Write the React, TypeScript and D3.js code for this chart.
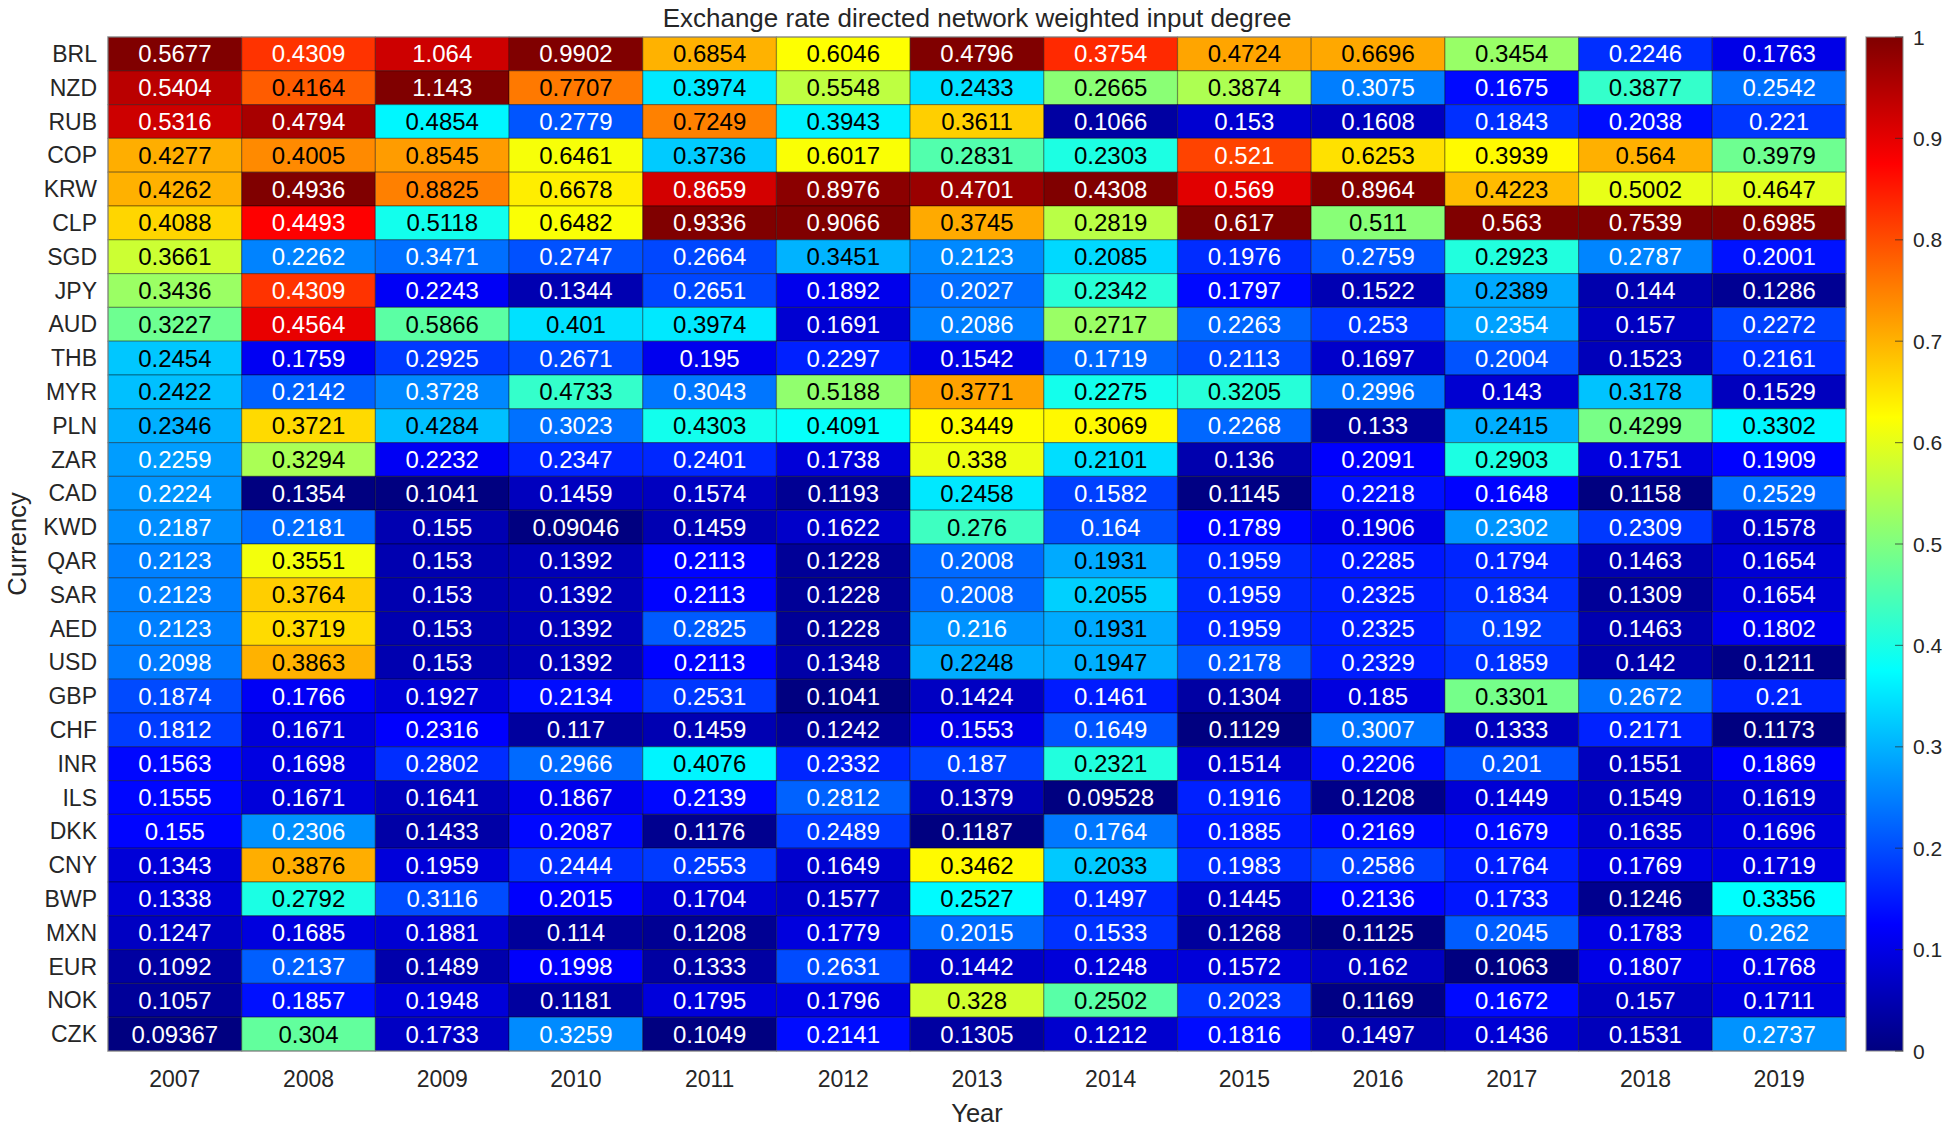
import * as d3 from 'd3';
import React, { useEffect, useRef } from 'react';

const years = ['2007', '2008', '2009', '2010', '2011', '2012', '2013', '2014', '2015', '2016', '2017', '2018', '2019'];

const currencies = ['BRL', 'NZD', 'RUB', 'COP', 'KRW', 'CLP', 'SGD', 'JPY', 'AUD', 'THB', 'MYR', 'PLN', 'ZAR', 'CAD', 'KWD',
    'QAR', 'SAR', 'AED', 'USD', 'GBP', 'CHF', 'INR', 'ILS', 'DKK', 'CNY', 'BWP', 'MXN', 'EUR', 'NOK', 'CZK'];

// one row per currency, one value per year
const degree = [
    [0.5677, 0.4309, 1.064, 0.9902, 0.6854, 0.6046, 0.4796, 0.3754, 0.4724, 0.6696, 0.3454, 0.2246, 0.1763],
    [0.5404, 0.4164, 1.143, 0.7707, 0.3974, 0.5548, 0.2433, 0.2665, 0.3874, 0.3075, 0.1675, 0.3877, 0.2542],
    [0.5316, 0.4794, 0.4854, 0.2779, 0.7249, 0.3943, 0.3611, 0.1066, 0.153, 0.1608, 0.1843, 0.2038, 0.221],
    [0.4277, 0.4005, 0.8545, 0.6461, 0.3736, 0.6017, 0.2831, 0.2303, 0.521, 0.6253, 0.3939, 0.564, 0.3979],
    [0.4262, 0.4936, 0.8825, 0.6678, 0.8659, 0.8976, 0.4701, 0.4308, 0.569, 0.8964, 0.4223, 0.5002, 0.4647],
    [0.4088, 0.4493, 0.5118, 0.6482, 0.9336, 0.9066, 0.3745, 0.2819, 0.617, 0.511, 0.563, 0.7539, 0.6985],
    [0.3661, 0.2262, 0.3471, 0.2747, 0.2664, 0.3451, 0.2123, 0.2085, 0.1976, 0.2759, 0.2923, 0.2787, 0.2001],
    [0.3436, 0.4309, 0.2243, 0.1344, 0.2651, 0.1892, 0.2027, 0.2342, 0.1797, 0.1522, 0.2389, 0.144, 0.1286],
    [0.3227, 0.4564, 0.5866, 0.401, 0.3974, 0.1691, 0.2086, 0.2717, 0.2263, 0.253, 0.2354, 0.157, 0.2272],
    [0.2454, 0.1759, 0.2925, 0.2671, 0.195, 0.2297, 0.1542, 0.1719, 0.2113, 0.1697, 0.2004, 0.1523, 0.2161],
    [0.2422, 0.2142, 0.3728, 0.4733, 0.3043, 0.5188, 0.3771, 0.2275, 0.3205, 0.2996, 0.143, 0.3178, 0.1529],
    [0.2346, 0.3721, 0.4284, 0.3023, 0.4303, 0.4091, 0.3449, 0.3069, 0.2268, 0.133, 0.2415, 0.4299, 0.3302],
    [0.2259, 0.3294, 0.2232, 0.2347, 0.2401, 0.1738, 0.338, 0.2101, 0.136, 0.2091, 0.2903, 0.1751, 0.1909],
    [0.2224, 0.1354, 0.1041, 0.1459, 0.1574, 0.1193, 0.2458, 0.1582, 0.1145, 0.2218, 0.1648, 0.1158, 0.2529],
    [0.2187, 0.2181, 0.155, 0.09046, 0.1459, 0.1622, 0.276, 0.164, 0.1789, 0.1906, 0.2302, 0.2309, 0.1578],
    [0.2123, 0.3551, 0.153, 0.1392, 0.2113, 0.1228, 0.2008, 0.1931, 0.1959, 0.2285, 0.1794, 0.1463, 0.1654],
    [0.2123, 0.3764, 0.153, 0.1392, 0.2113, 0.1228, 0.2008, 0.2055, 0.1959, 0.2325, 0.1834, 0.1309, 0.1654],
    [0.2123, 0.3719, 0.153, 0.1392, 0.2825, 0.1228, 0.216, 0.1931, 0.1959, 0.2325, 0.192, 0.1463, 0.1802],
    [0.2098, 0.3863, 0.153, 0.1392, 0.2113, 0.1348, 0.2248, 0.1947, 0.2178, 0.2329, 0.1859, 0.142, 0.1211],
    [0.1874, 0.1766, 0.1927, 0.2134, 0.2531, 0.1041, 0.1424, 0.1461, 0.1304, 0.185, 0.3301, 0.2672, 0.21],
    [0.1812, 0.1671, 0.2316, 0.117, 0.1459, 0.1242, 0.1553, 0.1649, 0.1129, 0.3007, 0.1333, 0.2171, 0.1173],
    [0.1563, 0.1698, 0.2802, 0.2966, 0.4076, 0.2332, 0.187, 0.2321, 0.1514, 0.2206, 0.201, 0.1551, 0.1869],
    [0.1555, 0.1671, 0.1641, 0.1867, 0.2139, 0.2812, 0.1379, 0.09528, 0.1916, 0.1208, 0.1449, 0.1549, 0.1619],
    [0.155, 0.2306, 0.1433, 0.2087, 0.1176, 0.2489, 0.1187, 0.1764, 0.1885, 0.2169, 0.1679, 0.1635, 0.1696],
    [0.1343, 0.3876, 0.1959, 0.2444, 0.2553, 0.1649, 0.3462, 0.2033, 0.1983, 0.2586, 0.1764, 0.1769, 0.1719],
    [0.1338, 0.2792, 0.3116, 0.2015, 0.1704, 0.1577, 0.2527, 0.1497, 0.1445, 0.2136, 0.1733, 0.1246, 0.3356],
    [0.1247, 0.1685, 0.1881, 0.114, 0.1208, 0.1779, 0.2015, 0.1533, 0.1268, 0.1125, 0.2045, 0.1783, 0.262],
    [0.1092, 0.2137, 0.1489, 0.1998, 0.1333, 0.2631, 0.1442, 0.1248, 0.1572, 0.162, 0.1063, 0.1807, 0.1768],
    [0.1057, 0.1857, 0.1948, 0.1181, 0.1795, 0.1796, 0.328, 0.2502, 0.2023, 0.1169, 0.1672, 0.157, 0.1711],
    [0.09367, 0.304, 0.1733, 0.3259, 0.1049, 0.2141, 0.1305, 0.1212, 0.1816, 0.1497, 0.1436, 0.1531, 0.2737],
];

const colorbarTicks = [0, 0.1, 0.2, 0.3, 0.4, 0.5, 0.6, 0.7, 0.8, 0.9, 1];

const FONT = '"Liberation Sans", Arial, Helvetica, sans-serif';
const TEXT = '#262626';

// matlab style jet colormap
function jetRgb(t: number) {
    const c = (v: number) => Math.max(0, Math.min(1, v));
    return [c(1.5 - Math.abs(4 * t - 3)), c(1.5 - Math.abs(4 * t - 2)), c(1.5 - Math.abs(4 * t - 1))];
}
function jet(t: number) {
    const [r, g, b] = jetRgb(t);
    return d3.rgb(r * 255, g * 255, b * 255).formatHex();
}
function labelColor(t: number) {
    const [r, g, b] = jetRgb(t);
    return 0.299 * r + 0.587 * g + 0.114 * b > 0.5 ? '#000000' : '#ffffff';
}

function App() {
    const ref = useRef<SVGSVGElement>(null);

    useEffect(() => {
        const svg = d3.select(ref.current);
        svg.selectAll('*').remove();

        const left = 108, right = 1846, top = 37, bottom = 1051;
        const x = d3.scaleBand().domain(years).range([left, right]);
        const y = d3.scaleBand().domain(currencies).range([top, bottom]);

        // colours are normalised per year (column)
        const norms = years.map((_, j) => {
            const col = degree.map(row => row[j]);
            return d3.scaleLinear().domain(d3.extent(col) as [number, number]).range([0, 1]);
        });

        const cells = [];
        currencies.forEach((cur, i) => {
            years.forEach((yr, j) => {
                const v = degree[i][j];
                cells.push({ cur, yr, v, t: norms[j](v) });
            });
        });

        const g = svg.append('g');
        g.selectAll('rect.cell')
            .data(cells)
            .enter()
            .append('rect')
            .attr('class', 'cell')
            .attr('x', d => x(d.yr))
            .attr('y', d => y(d.cur))
            .attr('width', x.bandwidth())
            .attr('height', y.bandwidth())
            .attr('fill', d => jet(d.t))
            .attr('stroke', 'rgba(0,0,0,0.32)')
            .attr('stroke-width', 1.2);

        g.selectAll('text.val')
            .data(cells)
            .enter()
            .append('text')
            .attr('class', 'val')
            .attr('x', d => x(d.yr) + x.bandwidth() / 2)
            .attr('y', d => y(d.cur) + y.bandwidth() / 2)
            .attr('text-anchor', 'middle')
            .attr('dominant-baseline', 'central')
            .style('font-family', FONT)
            .style('font-size', '24px')
            .attr('fill', d => labelColor(d.t))
            .text(d => String(d.v));

        // axes frame
        svg.append('rect')
            .attr('x', left).attr('y', top)
            .attr('width', right - left).attr('height', bottom - top)
            .attr('fill', 'none')
            .attr('stroke', 'rgba(140,140,140,0.7)')
            .attr('stroke-width', 1.5);

        // tick labels
        svg.append('g').selectAll('text')
            .data(currencies)
            .enter()
            .append('text')
            .attr('x', left - 11)
            .attr('y', d => y(d) + y.bandwidth() / 2)
            .attr('text-anchor', 'end')
            .attr('dominant-baseline', 'central')
            .style('font-family', FONT)
            .style('font-size', '23px')
            .attr('fill', TEXT)
            .text(d => d);

        svg.append('g').selectAll('text')
            .data(years)
            .enter()
            .append('text')
            .attr('x', d => x(d) + x.bandwidth() / 2)
            .attr('y', 1087)
            .attr('text-anchor', 'middle')
            .style('font-family', FONT)
            .style('font-size', '23px')
            .attr('fill', TEXT)
            .text(d => d);

        // axis titles
        svg.append('text')
            .attr('x', (left + right) / 2)
            .attr('y', 1122)
            .attr('text-anchor', 'middle')
            .style('font-family', FONT)
            .style('font-size', '25.5px')
            .attr('fill', TEXT)
            .text('Year');

        svg.append('text')
            .attr('transform', `translate(26,${(top + bottom) / 2}) rotate(-90)`)
            .attr('text-anchor', 'middle')
            .style('font-family', FONT)
            .style('font-size', '25.5px')
            .attr('fill', TEXT)
            .text('Currency');

        svg.append('text')
            .attr('x', (left + right) / 2)
            .attr('y', 27)
            .attr('text-anchor', 'middle')
            .style('font-family', FONT)
            .style('font-size', '26px')
            .attr('fill', TEXT)
            .text('Exchange rate directed network weighted input degree');

        // colorbar
        const cbX = 1866, cbW = 37;
        const cy = d3.scaleLinear().domain([0, 1]).range([bottom, top]);
        const grad = svg.append('defs').append('linearGradient')
            .attr('id', 'jetgrad')
            .attr('x1', 0).attr('y1', 1).attr('x2', 0).attr('y2', 0);
        grad.selectAll('stop')
            .data(d3.range(0, 65).map(k => k / 64))
            .enter()
            .append('stop')
            .attr('offset', d => d)
            .attr('stop-color', d => jet(d));

        svg.append('rect')
            .attr('x', cbX).attr('y', top)
            .attr('width', cbW).attr('height', bottom - top)
            .attr('fill', 'url(#jetgrad)')
            .attr('stroke', 'rgba(140,140,140,0.7)')
            .attr('stroke-width', 1.5);

        const cb = svg.append('g');
        cb.selectAll('line')
            .data(colorbarTicks)
            .enter()
            .append('line')
            .attr('x1', cbX + cbW - 8).attr('x2', cbX + cbW)
            .attr('y1', d => cy(d)).attr('y2', d => cy(d))
            .attr('stroke', 'rgba(40,40,40,0.6)')
            .attr('stroke-width', 1.2);
        cb.selectAll('text')
            .data(colorbarTicks)
            .enter()
            .append('text')
            .attr('x', 1913)
            .attr('y', d => cy(d))
            .attr('dominant-baseline', 'central')
            .style('font-family', FONT)
            .style('font-size', '21px')
            .attr('fill', TEXT)
            .text(d => String(d));
    }, []);

    return (
        <svg ref={ref} width={1958} height={1132}
            style={{ position: 'absolute', left: 0, top: 0, display: 'block', background: '#ffffff' }}></svg>
    );
}

export default App;
